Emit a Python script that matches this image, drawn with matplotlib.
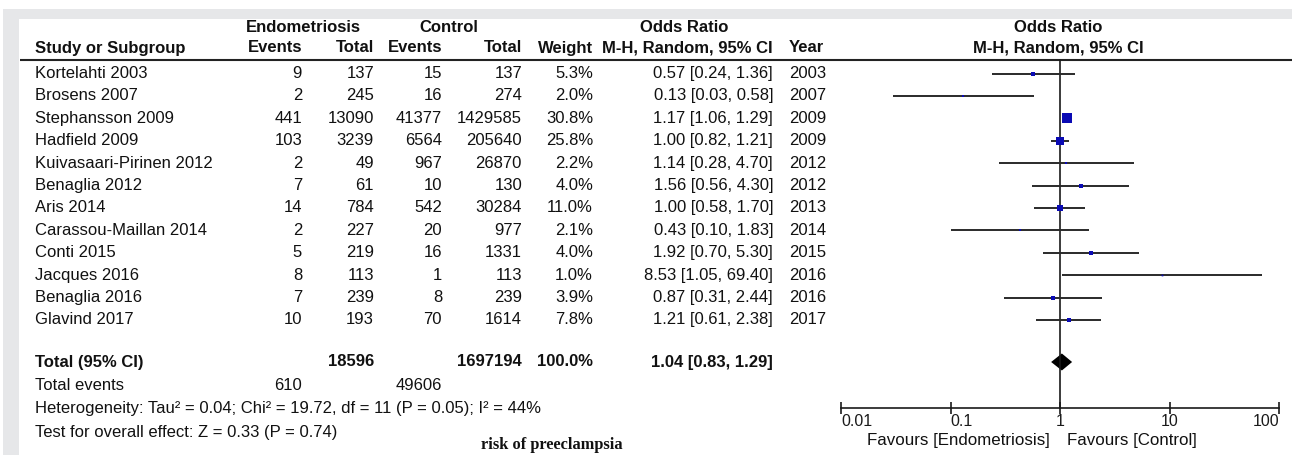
import matplotlib
matplotlib.use("Agg")
import matplotlib.pyplot as plt
from matplotlib.patches import Rectangle
from matplotlib.ticker import NullLocator

# data
studies = ["Kortelahti 2003", "Brosens 2007", "Stephansson 2009", "Hadfield 2009",
           "Kuivasaari-Pirinen 2012", "Benaglia 2012", "Aris 2014", "Carassou-Maillan 2014",
           "Conti 2015", "Jacques 2016", "Benaglia 2016", "Glavind 2017"]
endo_events = [9, 2, 441, 103, 2, 7, 14, 2, 5, 8, 7, 10]
endo_total = [137, 245, 13090, 3239, 49, 61, 784, 227, 219, 113, 239, 193]
ctrl_events = [15, 16, 41377, 6564, 967, 10, 542, 20, 16, 1, 8, 70]
ctrl_total = [137, 274, 1429585, 205640, 26870, 130, 30284, 977, 1331, 113, 239, 1614]
weights = [5.3, 2.0, 30.8, 25.8, 2.2, 4.0, 11.0, 2.1, 4.0, 1.0, 3.9, 7.8]
odds = [0.57, 0.13, 1.17, 1.00, 1.14, 1.56, 1.00, 0.43, 1.92, 8.53, 0.87, 1.21]
ci_low = [0.24, 0.03, 1.06, 0.82, 0.28, 0.56, 0.58, 0.10, 0.70, 1.05, 0.31, 0.61]
ci_high = [1.36, 0.58, 1.29, 1.21, 4.70, 4.30, 1.70, 1.83, 5.30, 69.40, 2.44, 2.38]
years = [2003, 2007, 2009, 2009, 2012, 2012, 2013, 2014, 2015, 2016, 2016, 2017]

total_endo = 18596
total_ctrl = 1697194
total_weight = 100.0
total_events_endo = 610
total_events_ctrl = 49606
pooled_or, pooled_lo, pooled_hi = 1.04, 0.83, 1.29

ticks = [0.01, 0.1, 1, 10, 100]
tick_labels = ["0.01", "0.1", "1", "10", "100"]

plt.rcParams['font.family'] = ['Liberation Sans', 'DejaVu Sans']
FS = 12
INK = '#111111'

W, H = 1292, 455
fig = plt.figure(figsize=(W / 100, H / 100), dpi=100)
fig.patch.set_facecolor('white')

# grey frame of the screenshot
fig.patches.append(Rectangle((3 / W, 1 - 19 / H), 1 - 3 / W, 10 / H, transform=fig.transFigure,
                             color='#e6e7e9', lw=0, zorder=0))
fig.patches.append(Rectangle((3 / W, 0), 16 / W, 1 - 9 / H, transform=fig.transFigure,
                             color='#e6e7e9', lw=0, zorder=0))

# table axes in pixel coordinates
tab = fig.add_axes([0, 0, 1, 1])
tab.set_xlim(0, W)
tab.set_ylim(H, 0)
tab.axis('off')

row0, step = 73.5, 22.4
rows = [row0 + i * step for i in range(len(studies))]
y_total, y_events, y_het, y_test = 362, 386, 409, 432

# column positions (right edges unless noted)
x_name = 35
x_ee, x_et, x_ce, x_ct, x_w, x_or, x_year = 302, 374, 442, 522, 593, 773, 789

def txt(x, y, s, ha='right', bold=False, size=FS, **kw):
    tab.text(x, y, s, ha=ha, va='center', fontsize=size, color=INK,
             fontweight='bold' if bold else 'normal', **kw)

# headers
txt(303, 27, "Endometriosis", ha='center', bold=True)
txt(449, 27, "Control", ha='center', bold=True)
txt(684, 27, "Odds Ratio", ha='center', bold=True)
txt(1058, 27, "Odds Ratio", ha='center', bold=True)
txt(x_name, 48, "Study or Subgroup", ha='left', bold=True)
txt(x_ee, 48, "Events", bold=True)
txt(x_et, 48, "Total", bold=True)
txt(x_ce, 48, "Events", bold=True)
txt(x_ct, 48, "Total", bold=True)
txt(x_w, 48, "Weight", bold=True)
txt(x_or, 48, "M-H, Random, 95% CI", bold=True)
txt(x_year, 48, "Year", ha='left', bold=True)
txt(1058, 48, "M-H, Random, 95% CI", ha='center', bold=True)
tab.plot([20, W], [60, 60], color='#222222', lw=1.5, solid_capstyle='butt')

for i, y in enumerate(rows):
    txt(x_name, y, studies[i], ha='left')
    txt(x_ee, y, str(endo_events[i]))
    txt(x_et, y, str(endo_total[i]))
    txt(x_ce, y, str(ctrl_events[i]))
    txt(x_ct, y, str(ctrl_total[i]))
    txt(x_w, y, f"{weights[i]:.1f}%")
    txt(x_or, y, f"{odds[i]:.2f} [{ci_low[i]:.2f}, {ci_high[i]:.2f}]")
    txt(x_year, y, str(years[i]), ha='left')

txt(x_name, y_total, "Total (95% CI)", ha='left', bold=True)
txt(x_et, y_total, str(total_endo), bold=True)
txt(x_ct, y_total, str(total_ctrl), bold=True)
txt(x_w, y_total, f"{total_weight:.1f}%", bold=True)
txt(x_or, y_total, f"{pooled_or:.2f} [{pooled_lo:.2f}, {pooled_hi:.2f}]", bold=True)
txt(x_name, y_events, "Total events", ha='left')
txt(x_ee, y_events, str(total_events_endo))
txt(x_ce, y_events, str(total_events_ctrl))
txt(x_name, y_het, "Heterogeneity: Tau\u00b2 = 0.04; Chi\u00b2 = 19.72, df = 11 (P = 0.05); I\u00b2 = 44%", ha='left')
txt(x_name, y_test, "Test for overall effect: Z = 0.33 (P = 0.74)", ha='left')
tab.text(552, 445, "risk of preeclampsia", ha='center', va='center', fontsize=11.8,
         fontweight='bold', color=INK, family=['Liberation Serif', 'DejaVu Serif'])

# favours labels either side of the line of no effect
txt(1050, 441, "Favours [Endometriosis]", ha='right', size=12.2)
txt(1067, 441, "Favours [Control]", ha='left', size=12.2)

# forest plot axes: log x, pixel y
x0, x1 = 841, 1279
fx = fig.add_axes([x0 / W, 0, (x1 - x0) / W, 1])
fx.set_xscale('log')
fx.set_xlim(ticks[0], ticks[-1])
fx.set_ylim(H, 0)
fx.patch.set_visible(False)
for s in ['top', 'left', 'right']:
    fx.spines[s].set_visible(False)
axis_y = 408
fx.spines['bottom'].set_position(('data', axis_y))
fx.spines['bottom'].set_linewidth(1.2)
fx.spines['bottom'].set_color('#1a1a1a')
fx.set_yticks([])
fx.xaxis.set_minor_locator(NullLocator())
fx.set_xticks(ticks, tick_labels)
fx.tick_params(axis='x', direction='inout', length=8, width=1.2, pad=0.5,
               labelsize=11.5, colors='#1a1a1a')
aligns = ['left', 'left', 'center', 'center', 'right']
for lab, a in zip(fx.get_xticklabels(), aligns):
    lab.set_horizontalalignment(a)

fx.plot([1, 1], [60, axis_y], color='#1a1a1a', lw=1.2)

for i, y in enumerate(rows):
    fx.plot([ci_low[i], ci_high[i]], [y, y], color='#2a2a2a', lw=1.4, solid_capstyle='butt')
    side = 1.7 * weights[i] ** 0.5
    fx.plot(odds[i], y, marker='s', ms=side * 0.72, color='#0a0ab4', mec='#0a0ab4', mew=0)

fx.fill([pooled_lo, pooled_or, pooled_hi, pooled_or],
        [y_total, y_total - 8.5, y_total, y_total + 8.5], color='black', lw=0)

fig.savefig("out.png", dpi=100)
